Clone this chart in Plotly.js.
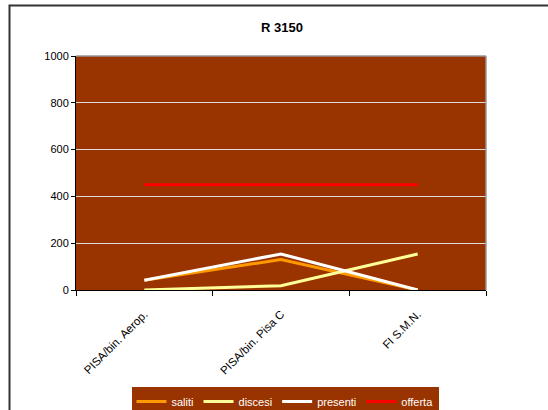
<!DOCTYPE html>
<html><head><meta charset="utf-8">
<script src="https://cdn.plot.ly/plotly-3.0.1.min.js"></script>
<style>html,body{margin:0;padding:0;background:#fff;}#c{width:548px;height:410px;}</style>
</head><body><div id="c"></div>
<script>
const categories = ["PISA/bin. Aerop.", "PISA/bin. Pisa C", "FI S.M.N."];
const saliti = [42, 130, 0];
const discesi = [0, 18, 154];
const presenti = [42, 154, 0];
const offerta = [450, 450, 450];
const yTicks = [0, 200, 400, 600, 800, 1000];

const series = [
  {name: "saliti", y: saliti, color: "#FF9900"},
  {name: "discesi", y: discesi, color: "#FFFF99"},
  {name: "presenti", y: presenti, color: "#FFFFFF"},
  {name: "offerta", y: offerta, color: "#FF0000"}
];
const traces = series.map(s => ({
  type: "scatter", mode: "lines", name: s.name, x: categories, y: s.y,
  line: {color: s.color, width: 3}, hoverinfo: "skip"
}));

const L = 76, R = 62, T = 56, B = 120, W = 548, H = 410;
const pw = W - L - R, ph = H - T - B;
const px = v => (v - L) / pw;
const py = v => (H - B - v) / ph;

const layout = {
  width: W, height: H,
  margin: {l: L, r: R, t: T, b: B, pad: 0, autoexpand: false},
  paper_bgcolor: "#ffffff",
  plot_bgcolor: "#993300",
  font: {family: "Liberation Sans, Arial, sans-serif", size: 11, color: "#000"},
  title: {text: "<b>R 3150</b>", x: (282) / W, xanchor: "center", y: 1 - 27 / H, yanchor: "middle",
          font: {size: 13, color: "#000", family: "Liberation Sans, Arial, sans-serif"}},
  showlegend: true,
  legend: {orientation: "h", x: 285 / W, xref: "container", xanchor: "center",
           y: (H - 387) / H, yref: "container", yanchor: "top",
           bgcolor: "#993300", font: {color: "#ffffff", size: 11}, itemwidth: 30,
           tracegroupgap: 0, traceorder: "normal"},
  xaxis: {type: "category", range: [-0.5, 2.5], tickson: "boundaries", ticks: "outside",
          ticklen: 5, tickcolor: "#000", showline: true, linecolor: "#000", linewidth: 1,
          showgrid: false, tickangle: -45, fixedrange: true, zeroline: false, automargin: false,
          ticklabelstandoff: 12,
          tickfont: {size: 11.5, color: "#000"}},
  yaxis: {range: [0, 1000], tickvals: yTicks, ticks: "outside", ticklen: 4, tickcolor: "#000",
          showline: true, linecolor: "#000", linewidth: 1, showgrid: true, gridcolor: "#dddddd",
          gridwidth: 1, zeroline: false, fixedrange: true, automargin: false,
          tickfont: {size: 11, color: "#000"}},
  shapes: [
    {type: "line", xref: "paper", yref: "paper", x0: 0, x1: 1, y0: 1, y1: 1,
     line: {color: "#999999", width: 1.5}},
    {type: "line", xref: "paper", yref: "paper", x0: 1, x1: 1, y0: 0, y1: 1,
     line: {color: "#999999", width: 1.5}},
    {type: "rect", xref: "paper", yref: "paper", x0: px(9.5), x1: px(600), y0: py(5.5), y1: py(600),
     line: {color: "#333333", width: 2}, fillcolor: "rgba(0,0,0,0)"}
  ]
};
Plotly.newPlot("c", traces, layout, {displayModeBar: false, staticPlot: true});
</script></body></html>
